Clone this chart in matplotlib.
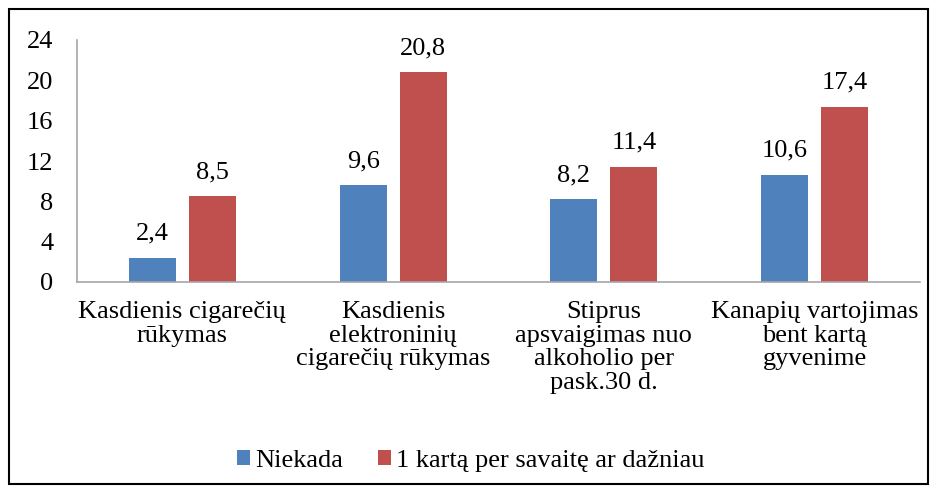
import matplotlib
matplotlib.use("Agg")
import matplotlib.pyplot as plt
import numpy as np
from matplotlib.patches import Rectangle

categories = ["Kasdienis cigarečių\nrūkymas",
              "Kasdienis\nelektroninių\ncigarečių rūkymas",
              "Stiprus\napsvaigimas nuo\nalkoholio per\npask.30 d.",
              "Kanapių vartojimas\nbent kartą\ngyvenime"]
series_names = ["Niekada", "1 kartą per savaitę ar dažniau"]
niekada = [2.4, 9.6, 8.2, 10.6]
savaite = [8.5, 20.8, 11.4, 17.4]
yticks = [0, 4, 8, 12, 16, 20, 24]

blue = "#4F81BD"
red = "#C0504D"

plt.rcParams['font.family'] = ['Liberation Serif', 'DejaVu Serif']
fs = 19

fig = plt.figure(figsize=(9.37, 4.93), dpi=100)
ax = fig.add_axes([77/937, 1-282/493, (920-77)/937, (282-40)/493])

x = np.arange(len(categories))
w = 0.223
off = 0.142
b1 = ax.bar(x - off, niekada, w, color=blue, label=series_names[0])
b2 = ax.bar(x + off, savaite, w, color=red, label=series_names[1])

for bars, vals in ((b1, niekada), (b2, savaite)):
    for rect, v in zip(bars, vals):
        ax.annotate(f"{v:.1f}".replace(".", ","),
                    (rect.get_x() + rect.get_width()/2, v),
                    xytext=(0, 9.5), textcoords="offset points",
                    ha="center", va="bottom", fontsize=fs)

ax.set_xlim(-0.5, len(categories) - 0.5)
ax.set_ylim(0, 24)
ax.set_yticks(yticks)
ax.set_yticklabels([str(t) for t in yticks], fontsize=fs)
ax.set_xticks(x)
ax.set_xticklabels(categories, fontsize=fs, linespacing=1.08, va="top")
ax.tick_params(axis="both", length=0)
ax.tick_params(axis="y", pad=17)
ax.tick_params(axis="x", pad=14)
for s in ("top", "right"):
    ax.spines[s].set_visible(False)
for s in ("left", "bottom"):
    ax.spines[s].set_color("#A6A6A6")
    ax.spines[s].set_linewidth(1.2)

leg = fig.legend(handles=[b1, b2], labels=series_names, loc="center",
                 bbox_to_anchor=(471/937, 1-461/493), ncol=2, frameon=False,
                 fontsize=fs, handlelength=0.5, handleheight=0.5,
                 handletextpad=0.2, columnspacing=1.3)

fig.patches.append(Rectangle((9/937, 1-484/493), (928-9)/937, (484-9)/493,
                             transform=fig.transFigure, fill=False,
                             edgecolor="black", linewidth=1.5))

fig.savefig("out.png", dpi=100)
